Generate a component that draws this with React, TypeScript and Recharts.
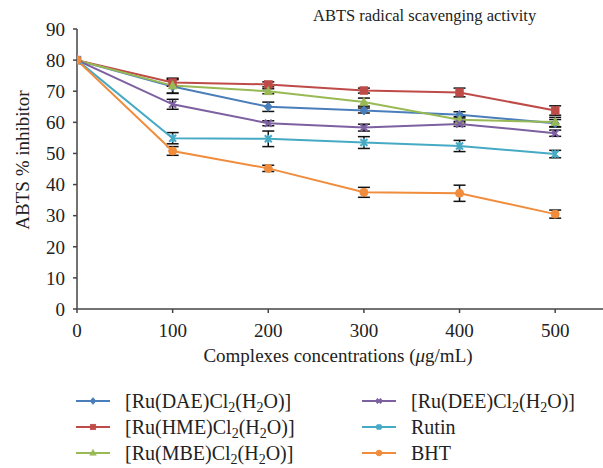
import React from 'react';
import { LineChart, Line, XAxis, YAxis, ErrorBar } from 'recharts';

const concentrations = [0, 100, 200, 300, 400, 500];
const xTicks = [0, 100, 200, 300, 400, 500];
const yTicks = [0, 10, 20, 30, 40, 50, 60, 70, 80, 90];

const daeValues = [80, 71.5, 65.0, 63.8, 62.4, 59.7];
const daeErrors = [0, 2.2, 1.5, 0.8, 1.0, 1.2];
const hmeValues = [80, 72.8, 72.2, 70.2, 69.6, 63.8];
const hmeErrors = [0, 1.2, 0.8, 0.8, 1.4, 1.5];
const mbeValues = [80, 71.8, 70.0, 66.5, 60.8, 60.1];
const mbeErrors = [0, 2.4, 0.8, 1.3, 1.0, 1.5];
const deeValues = [80, 65.8, 59.7, 58.3, 59.5, 56.5];
const deeErrors = [0, 1.6, 0.8, 1.1, 0.8, 1.0];
const rutinValues = [80, 54.9, 54.7, 53.5, 52.4, 49.8];
const rutinErrors = [0, 1.8, 2.5, 1.9, 1.8, 1.2];
const bhtValues = [80, 50.8, 45.2, 37.5, 37.2, 30.5];
const bhtErrors = [0, 1.4, 1.0, 1.6, 2.6, 1.3];

const FONT = '"Liberation Serif", "Times New Roman", serif';

const subStyle: React.CSSProperties = { fontSize: '0.7em', position: 'relative', top: '0.25em', verticalAlign: 'baseline', lineHeight: 0 };
const Sub = ({ children }: { children: React.ReactNode }) => <span style={subStyle}>{children}</span>;

type Series = { key: string; values: number[]; errors: number[]; color: string; marker: string; label: React.ReactNode };

const series: Series[] = [
  { key: 'dae', values: daeValues, errors: daeErrors, color: '#4A7EBB', marker: 'diamond', label: <>[Ru(DAE)Cl<Sub>2</Sub>(H<Sub>2</Sub>O)]</> },
  { key: 'hme', values: hmeValues, errors: hmeErrors, color: '#BE4B48', marker: 'square', label: <>[Ru(HME)Cl<Sub>2</Sub>(H<Sub>2</Sub>O)]</> },
  { key: 'mbe', values: mbeValues, errors: mbeErrors, color: '#98B954', marker: 'triangle', label: <>[Ru(MBE)Cl<Sub>2</Sub>(H<Sub>2</Sub>O)]</> },
  { key: 'dee', values: deeValues, errors: deeErrors, color: '#7D60A0', marker: 'x', label: <>[Ru(DEE)Cl<Sub>2</Sub>(H<Sub>2</Sub>O)]</> },
  { key: 'rutin', values: rutinValues, errors: rutinErrors, color: '#46AAC5', marker: 'star', label: <>Rutin</> },
  { key: 'bht', values: bhtValues, errors: bhtErrors, color: '#F08C3C', marker: 'circle', label: <>BHT</> },
];

const data = concentrations.map((c, i) => {
  const row: Record<string, number> = { x: c };
  series.forEach((s) => {
    row[s.key] = s.values[i];
    row[s.key + 'Err'] = s.errors[i];
  });
  return row;
});

function Marker({ cx, cy, type, color, size = 1 }: { cx: number; cy: number; type: string; color: string; size?: number }) {
  const r = 4 * size;
  switch (type) {
    case 'diamond':
      return <path d={`M${cx},${cy - r - 0.5}L${cx + r},${cy}L${cx},${cy + r + 0.5}L${cx - r},${cy}Z`} fill={color} stroke={color} strokeWidth={1} />;
    case 'square':
      return <rect x={cx - r} y={cy - r} width={2 * r} height={2 * r} fill={color} stroke={color} strokeWidth={0.5} />;
    case 'triangle':
      return <path d={`M${cx},${cy - r - 1}L${cx + r + 0.5},${cy + r - 0.5}L${cx - r - 0.5},${cy + r - 0.5}Z`} fill={color} stroke={color} strokeWidth={0.5} />;
    case 'x':
      return (
        <g stroke={color} strokeWidth={2.2}>
          <path d={`M${cx - r + 0.5},${cy - r + 0.5}L${cx + r - 0.5},${cy + r - 0.5}M${cx - r + 0.5},${cy + r - 0.5}L${cx + r - 0.5},${cy - r + 0.5}`} />
        </g>
      );
    case 'star':
      return (
        <g stroke={color} strokeWidth={2}>
          <path d={`M${cx - r + 0.5},${cy - r + 0.5}L${cx + r - 0.5},${cy + r - 0.5}M${cx - r + 0.5},${cy + r - 0.5}L${cx + r - 0.5},${cy - r + 0.5}M${cx},${cy - r}L${cx},${cy + r}`} />
        </g>
      );
    default:
      return <circle cx={cx} cy={cy} r={r} fill={color} stroke={color} />;
  }
}

function LegendItem({ s }: { s: Series }) {
  return (
    <div style={{ display: 'flex', alignItems: 'center', height: 26 }}>
      <svg width={34} height={12} style={{ marginRight: 15, flex: 'none' }}>
        <line x1={0} y1={6} x2={34} y2={6} stroke={s.color} strokeWidth={2} />
        <Marker cx={17} cy={6} type={s.marker} color={s.color} size={0.7} />
      </svg>
      <span style={{ fontFamily: FONT, fontSize: 20, lineHeight: '20px', color: '#222', whiteSpace: 'nowrap' }}>{s.label}</span>
    </div>
  );
}

export default function App() {
  return (
    <div style={{ position: 'absolute', left: 0, top: 0, width: 603, height: 468, background: '#fff', overflow: 'hidden' }}>
      <LineChart
        width={603}
        height={468}
        data={data}
        margin={{ top: 29, right: 0, left: 0, bottom: 99 }}
      >
        <XAxis
          dataKey="x"
          type="number"
          domain={[0, 550]}
          ticks={xTicks}
          allowDataOverflow
          height={60}
          stroke="#444"
          strokeWidth={1.5}
          tickSize={4}
          tickMargin={11}
          tick={{ fill: '#222', fontSize: 19, fontFamily: FONT }}
          tickLine={{ stroke: '#444' }}
        />
        <YAxis
          type="number"
          domain={[0, 90]}
          ticks={yTicks}
          width={77}
          stroke="#444"
          strokeWidth={1.5}
          tickSize={4}
          tickMargin={8}
          tick={{ fill: '#222', fontSize: 19, fontFamily: FONT }}
          tickLine={{ stroke: '#444' }}
        />
        {series.map((s) => (
          <Line
            key={s.key}
            dataKey={s.key}
            stroke={s.color}
            strokeWidth={2}
            isAnimationActive={false}
            dot={(p: any) => <Marker key={s.key + p.index} cx={p.cx} cy={p.cy} type={s.marker} color={s.color} />}
            activeDot={false}
          >
            <ErrorBar dataKey={s.key + 'Err'} direction="y" width={6} stroke="#111" strokeWidth={1.5} />
          </Line>
        ))}
      </LineChart>

      <div style={{ position: 'absolute', left: 313, top: 6, fontFamily: FONT, fontSize: 16.5, color: '#222', whiteSpace: 'nowrap' }}>
        ABTS radical scavenging activity
      </div>
      <div
        style={{
          position: 'absolute', left: 23, top: 160, fontFamily: FONT, fontSize: 19, color: '#222', whiteSpace: 'nowrap',
          transform: 'translate(-50%, -50%) rotate(-90deg)',
        }}
      >
        ABTS % inhibitor
      </div>
      <div
        style={{
          position: 'absolute', left: 338, top: 356, fontFamily: FONT, fontSize: 19, color: '#222', whiteSpace: 'nowrap',
          transform: 'translate(-50%, -50%)',
        }}
      >
        Complexes concentrations (<i>μ</i>g/mL)
      </div>
      <div style={{ position: 'absolute', left: 76, top: 388 }}>
        {series.slice(0, 3).map((s) => <LegendItem key={s.key} s={s} />)}
      </div>
      <div style={{ position: 'absolute', left: 362, top: 388 }}>
        {series.slice(3).map((s) => <LegendItem key={s.key} s={s} />)}
      </div>
    </div>
  );
}
